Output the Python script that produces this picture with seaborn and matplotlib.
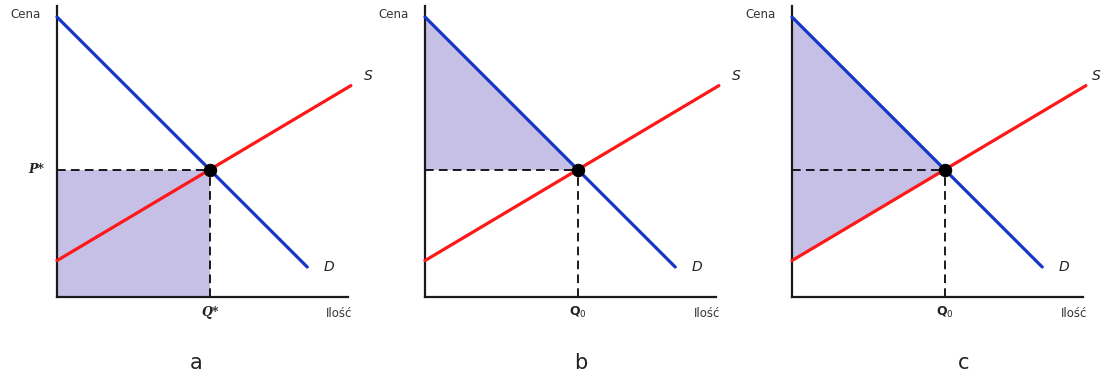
import numpy as np
import pandas as pd
import matplotlib
matplotlib.use("Agg")
import matplotlib.pyplot as plt
import seaborn as sns

# demand / supply endpoints (quantity, price)
demand_q = [0.0, 8.6]
demand_p = [10.0, 1.07]
supply_q = [0.0, 10.1]
supply_p = [1.3, 7.55]

panel_letters = ["a", "b", "c"]
q_labels = [r"$Q$*", r"$\mathbf{Q}_{\mathit{0}}$", r"$\mathbf{Q}_{\mathit{0}}$"]
fill_kind = ["rect", "consumer", "both"]
s_label_x = [10.7, 10.7, 10.45]

sns.set_style("white")
plt.rcParams["font.family"] = ["DejaVu Sans"]
plt.rcParams["mathtext.fontset"] = "dejavusans"

blue = "#1636c8"
red = "#ff1818"
fill_col = "#c6c0e6"

# equilibrium from intersection of the two lines
d_slope = (demand_p[1] - demand_p[0]) / (demand_q[1] - demand_q[0])
s_slope = (supply_p[1] - supply_p[0]) / (supply_q[1] - supply_q[0])
q_eq = (supply_p[0] - demand_p[0]) / (d_slope - s_slope)
p_eq = demand_p[0] + d_slope * q_eq

fig = plt.figure(figsize=(11.02, 3.76), dpi=100)
W, H = 1102, 376
px_x, px_y = 29.1, 28.0
xmax, ymax = 10.7, 10.4
origins = [57, 425, 792]
letter_x = [196, 581, 964]

for i, ox in enumerate(origins):
    ax = fig.add_axes([ox / W, (H - 297) / H, xmax * px_x / W, ymax * px_y / H])
    ax.set_xlim(0, xmax)
    ax.set_ylim(0, ymax)

    qq = np.linspace(0, q_eq, 50)
    dd = demand_p[0] + d_slope * qq
    ss = supply_p[0] + s_slope * qq
    if fill_kind[i] == "rect":
        ax.fill_between([0, q_eq], 0, p_eq, color=fill_col, lw=0, zorder=1)
    elif fill_kind[i] == "consumer":
        ax.fill_between(qq, p_eq, dd, color=fill_col, lw=0, zorder=1)
    else:
        ax.fill_between(qq, ss, dd, color=fill_col, lw=0, zorder=1)

    # dashed guides
    ax.plot([0, q_eq], [p_eq, p_eq], color="#000000", lw=1.25, dashes=(5, 3), zorder=2)
    ax.plot([q_eq, q_eq], [0, p_eq], color="#000000", lw=1.25, dashes=(5, 3), zorder=2)

    sns.lineplot(x=demand_q, y=demand_p, ax=ax, color=blue, lw=2.3, zorder=3)
    sns.lineplot(x=supply_q, y=supply_p, ax=ax, color=red, lw=2.3, zorder=3)
    for ln in ax.lines:
        ln.set_clip_on(False)
    sns.scatterplot(x=[q_eq], y=[p_eq], ax=ax, color="black", s=80, zorder=4,
                    edgecolor="black", clip_on=False)

    for side in ["top", "right"]:
        ax.spines[side].set_visible(False)
    for side in ["left", "bottom"]:
        ax.spines[side].set_color("#1a1a1a")
        ax.spines[side].set_linewidth(1.6)
    ax.spines["bottom"].set_bounds(0, 10.0)
    ax.spines["left"].set_bounds(0, ymax)
    ax.set_xticks([])
    ax.set_yticks([])

    ax.text(-0.55, 10.1, "Cena", ha="right", va="center", fontsize=8.5, color="#333333")
    ax.text(9.7, -0.6, "Ilość", ha="center", va="center", fontsize=8.5, color="#333333")
    ax.text(s_label_x[i], 7.9, "S", ha="center", va="center", fontsize=10, style="italic", color="#222222")
    ax.text(9.35, 1.07, "D", ha="center", va="center", fontsize=10, style="italic", color="#222222")

    if i == 0:
        ax.text(q_eq, -0.55, "Q*", ha="center", va="center", fontsize=9,
                family="DejaVu Serif", weight="bold", style="italic", color="#222222")
        ax.text(-0.45, p_eq, "P*", ha="right", va="center", fontsize=9,
                family="DejaVu Serif", weight="bold", style="italic", color="#222222")
    else:
        ax.text(q_eq, -0.55, q_labels[i], ha="center", va="center", fontsize=9, color="#222222")

    fig.text(letter_x[i] / W, 1 - 363 / H, panel_letters[i], ha="center", va="center",
             fontsize=15, color="#222222")

fig.savefig("out.png", dpi=100)
